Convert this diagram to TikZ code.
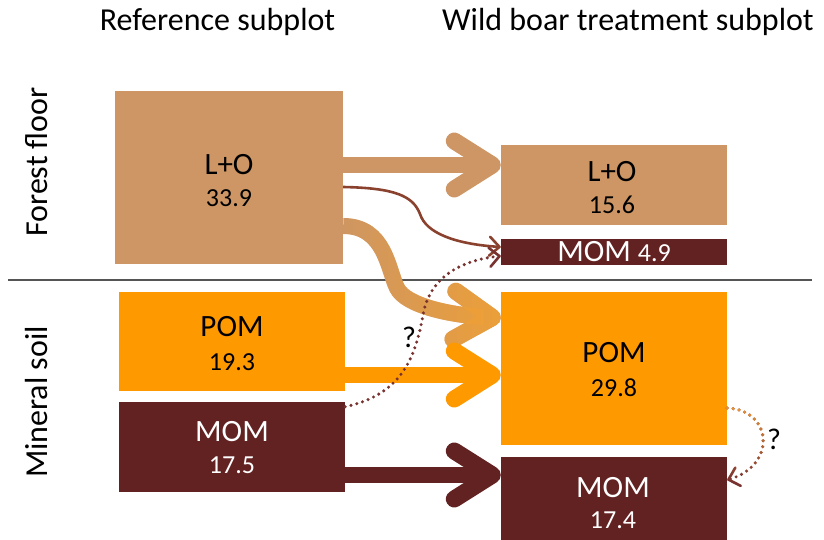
\documentclass[tikz,border=0pt]{standalone}
\usepackage{fontspec}
\setmainfont{Carlito}
\usetikzlibrary{arrows.meta,fadings}
\definecolor{litter}{RGB}{205,150,100}
\definecolor{pomorange}{RGB}{255,153,0}
\definecolor{flowmix}{RGB}{238,160,55}
\definecolor{mombrown}{RGB}{99,34,34}
\definecolor{flowbrown}{RGB}{138,66,46}
\definecolor{dotbrown}{RGB}{120,50,48}
\definecolor{dotorange}{RGB}{235,150,55}
\definecolor{rulegray}{RGB}{85,85,85}
\tikzfading[name=fade in right, left color=transparent!100, right color=transparent!0]
\tikzfading[name=fade out down, top color=transparent!0, bottom color=transparent!100]
\tikzset{
    %Define style for pools
    pool/.style={
           rectangle,
           minimum width=226pt,
           inner sep=0pt},
    %Define style for texts
    poolname/.style={font=\fontsize{31}{31}\selectfont, inner sep=0pt},
    poolvalue/.style={font=\fontsize{26}{26}\selectfont, inner sep=0pt},
    heading/.style={font=\fontsize{32}{32}\selectfont, anchor=base, inner sep=0pt},
    query/.style={font=\fontsize{30}{30}\selectfont, inner sep=0pt},
    % Define arrow styles
    bigflow/.style={
           line width=16pt,
           -{Straight Barb[round,length=38pt,width=48pt,line width=17pt]}},
    thinflow/.style={
           line width=2.6pt,
           -{Straight Barb[round,length=10pt,width=19pt]}},
    unknown/.style={
           line width=3.4pt,
           line cap=round,
           dash pattern=on 0pt off 6pt,
           -{Straight Barb[round,length=10pt,width=19pt,line width=2.6pt]}}
}

\begin{document}
\begin{tikzpicture}[x=1pt,y=-1pt]
\useasboundingbox (0,0) rectangle (824,540);
% headings
\node[heading] (refhead) at (217.5,31) {Reference subplot};
\node[heading] (wbhead) at (628,31) {Wild boar treatment subplot};
\node[heading, rotate=90] (ffhead) at (47,162) {Forest floor};
\node[heading, rotate=90] (mshead) at (47,402) {Mineral soil};
\coordinate (sepleft) at (8,280);
\coordinate (sepright) at (812,280);
\draw[rulegray, line width=1.5pt] (sepleft) -- (sepright);
% pools, reference subplot
\node[pool, fill=litter, minimum width=228pt, minimum height=173pt] (refLO) at (229,177.5) {};
\node[pool, fill=pomorange, minimum height=99pt] (refPOM) at (232,341.5) {};
\node[pool, fill=mombrown, minimum height=90pt] (refMOM) at (232,447) {};
\node[poolname] (refLOname) at (229,165) {L+O};
\node[poolvalue] (refLOval) at (229,198) {33.9};
\node[poolname] (refPOMname) at (232,327) {POM};
\node[poolvalue] (refPOMval) at (232,362) {19.3};
\node[poolname, white] (refMOMname) at (232,432) {MOM};
\node[poolvalue, white] (refMOMval) at (232,465) {17.5};
% pools, wild boar subplot
\node[pool, fill=litter, minimum height=80pt] (wbLO) at (614,185) {};
\node[pool, fill=mombrown, minimum height=26pt] (wbMOMf) at (614,252) {};
\node[pool, fill=pomorange, minimum height=153pt] (wbPOM) at (614,368.5) {};
\node[pool, fill=mombrown, minimum height=83pt] (wbMOM) at (614,498.5) {};
\node[poolname] (wbLOname) at (612,172) {L+O};
\node[poolvalue] (wbLOval) at (612,205) {15.6};
\node[poolname, white] (wbMOMfname) at (614,252) {MOM {\fontsize{26}{26}\selectfont 4.9}};
\node[poolname] (wbPOMname) at (614,353) {POM};
\node[poolvalue] (wbPOMval) at (614,388) {29.8};
\node[poolname, white] (wbMOMname) at (613,488) {MOM};
\node[poolvalue, white] (wbMOMval) at (613,520) {17.4};
% flows
\draw[bigflow, litter] ([yshift=12.5pt]refLO.east) -- ([yshift=20pt]wbLO.west);
\draw[thinflow, flowbrown] ([yshift=-9.5pt]refLO.east) .. controls +(52,1) and +(-7,-18) .. (420,214)
    .. controls +(6,19) and +(-46,-3) .. ([yshift=5pt]wbMOMf.west);
\draw[bigflow, litter] ([yshift=-48.5pt]refLO.east) .. controls +(42,0) and +(-9,-18) .. (397,288)
    .. controls +(9,18) and +(-50,-3) .. ([yshift=50.5pt]wbPOM.west);
\draw[bigflow, flowmix, path fading=fade in right] ([yshift=-48.5pt]refLO.east) .. controls +(42,0) and +(-9,-18) .. (397,288)
    .. controls +(9,18) and +(-50,-3) .. ([yshift=50.5pt]wbPOM.west);
\draw[bigflow, pomorange] ([yshift=-33.5pt]refPOM.east) -- ([yshift=-6.5pt]wbPOM.west);
\draw[bigflow, mombrown] ([yshift=-28pt]refMOM.east) -- ([yshift=23.5pt]wbMOM.west);
% unknown flows
\draw[unknown, dotbrown] ([yshift=-5pt]refMOM.north east) .. controls +(55,-12) and +(-8,45) .. (423,315)
    .. controls +(7,-40) and +(-37,4) .. ([yshift=-4pt]wbMOMf.west);
\node[query] (q1) at (409,337) {?};
\draw[unknown, dotbrown] ([yshift=-39.5pt]wbPOM.east) .. controls +(45,2) and +(50,-15) .. ([yshift=18.5pt]wbMOM.east);
\draw[unknown, dotorange, path fading=fade out down] ([yshift=-39.5pt]wbPOM.east) .. controls +(45,2) and +(50,-15) .. ([yshift=18.5pt]wbMOM.east);
\node[query] (q2) at (774,439) {?};
\end{tikzpicture}
\end{document}
